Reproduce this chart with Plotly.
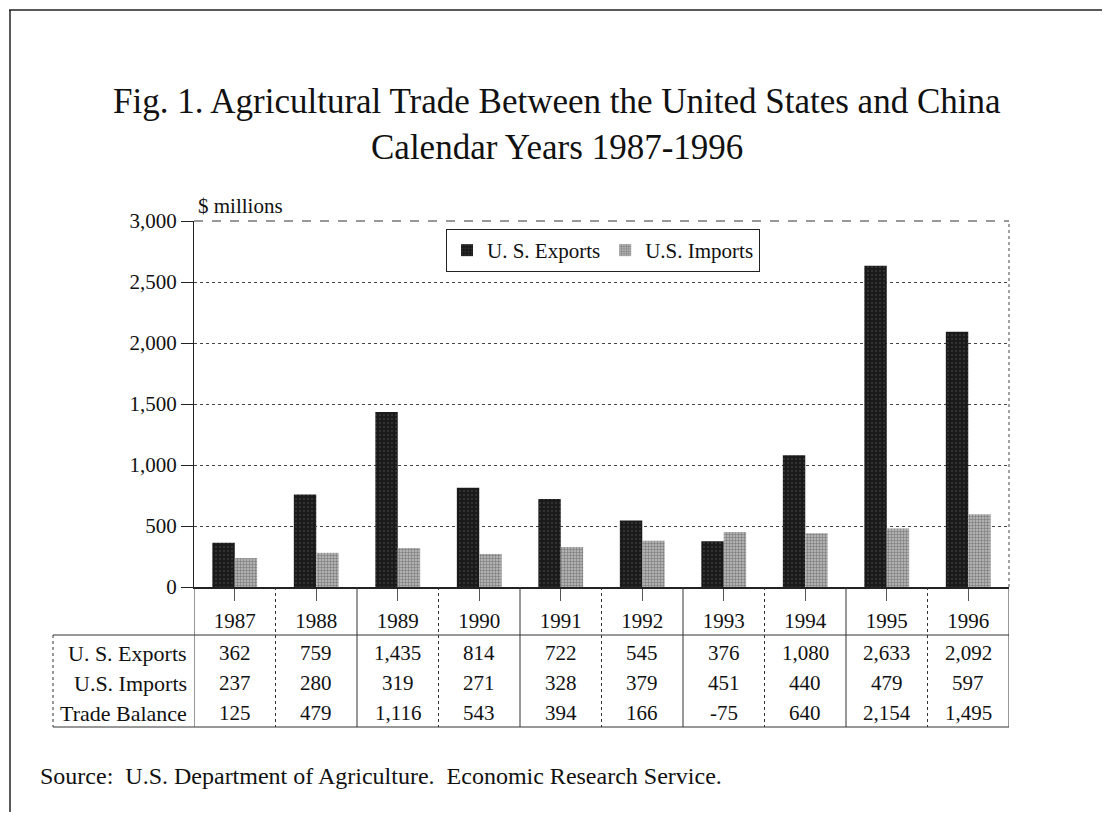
import plotly.graph_objects as go

years = ["1987", "1988", "1989", "1990", "1991", "1992", "1993", "1994", "1995", "1996"]
us_exports = [362, 759, 1435, 814, 722, 545, 376, 1080, 2633, 2092]
us_imports = [237, 280, 319, 271, 328, 379, 451, 440, 479, 597]
trade_balance = [125, 479, 1116, 543, 394, 166, -75, 640, 2154, 1495]
row_labels = ["U. S. Exports", "U.S. Imports", "Trade Balance"]
y_ticks = [0, 500, 1000, 1500, 2000, 2500, 3000]

SERIF = "Liberation Serif, Times New Roman, serif"
OFF = 8  # page body margin
W, H = 1110 - 2 * OFF, 831 - 2 * OFF
P_LEFT, P_RIGHT, P_TOP, P_BOT = 194, 1009, 221, 587  # plot area in page px
ML = P_LEFT - OFF
MR = W - (P_RIGHT - OFF)
MT = P_TOP - OFF
MB = H - (P_BOT - OFF)
PW, PH = P_RIGHT - P_LEFT, P_BOT - P_TOP


def py(px):  # page pixel y -> paper y
    return (P_BOT - px) / PH


def pxx(px):  # page pixel x -> paper x
    return (px - P_LEFT) / PW


fig = go.Figure()
fig.add_trace(go.Bar(
    x=list(range(len(years))), y=us_exports, name="U. S. Exports",
    marker=dict(color="#1a1a1a", line=dict(width=0),
                pattern=dict(shape=".", fgcolor="#8a8a8a", size=4, solidity=0.12)),
))
fig.add_trace(go.Bar(
    x=list(range(len(years))), y=us_imports, name="U.S. Imports",
    marker=dict(color="#b0b0b0", line=dict(width=0),
                pattern=dict(shape="+", fgcolor="#333333", size=3, solidity=0.3)),
))

shapes = []
ann = []
line_col = "#333"
T_TOP, T_BOT = 635, 727
# table horizontal lines
for ypx in (T_TOP, T_BOT):
    shapes.append(dict(type="line", xref="paper", yref="paper", x0=pxx(53), x1=1.0,
                       y0=py(ypx), y1=py(ypx), line=dict(color=line_col, width=1)))
# table vertical dividers between categories
n = len(years)
for i in range(n + 1):
    shapes.append(dict(type="line", xref="x", yref="paper", x0=i - 0.5, x1=i - 0.5,
                       y0=0, y1=py(T_BOT),
                       line=dict(color=line_col, width=1, dash="solid" if i % 2 == 0 else "dot")))
shapes.append(dict(type="line", xref="paper", yref="paper", x0=pxx(53), x1=pxx(53),
                   y0=py(T_TOP), y1=py(T_BOT), line=dict(color=line_col, width=1, dash="dot")))
# outer frame (top and left)
shapes.append(dict(type="line", xref="paper", yref="paper", x0=pxx(9), x1=pxx(1110),
                   y0=py(10), y1=py(10), line=dict(color="#222", width=1.5)))
shapes.append(dict(type="line", xref="paper", yref="paper", x0=pxx(10), x1=pxx(10),
                   y0=py(10), y1=py(812), line=dict(color="#222", width=1.5)))
# plot frame: right (dotted) and top (dashed)
shapes.append(dict(type="line", xref="paper", yref="paper", x0=1, x1=1, y0=0, y1=1,
                   line=dict(color="#444", width=1, dash="dot")))
shapes.append(dict(type="line", xref="paper", yref="paper", x0=0, x1=1, y0=1, y1=1,
                   line=dict(color="#333", width=1.2, dash="dash")))

rows = [us_exports, us_imports, trade_balance]
row_y = [653, 683, 713]
for label, vals, ypx in zip(row_labels, rows, row_y):
    ann.append(dict(text=label, xref="paper", yref="paper", x=pxx(189), y=py(ypx),
                    xanchor="right", yanchor="middle", showarrow=False,
                    font=dict(family=SERIF, size=22, color="#111")))
    for i, v in enumerate(vals):
        ann.append(dict(text=f"{v:,}", xref="x", yref="paper", x=i, y=py(ypx),
                        xanchor="center", yanchor="middle", showarrow=False,
                        font=dict(family=SERIF, size=21, color="#111")))

ann.append(dict(text="$ millions", xref="paper", yref="paper", x=pxx(196), y=py(206),
                xanchor="left", yanchor="middle", showarrow=False,
                font=dict(family=SERIF, size=21, color="#111")))
ann.append(dict(text="Source:  U.S. Department of Agriculture.  Economic Research Service.",
                xref="paper", yref="paper", x=pxx(38), y=py(776),
                xanchor="left", yanchor="middle", showarrow=False,
                font=dict(family=SERIF, size=24, color="#111")))
ann.append(dict(text="Fig. 1. Agricultural Trade Between the United States and China",
                xref="paper", yref="paper", x=pxx(557), y=py(102),
                xanchor="center", yanchor="middle", showarrow=False,
                font=dict(family=SERIF, size=35, color="#111")))
ann.append(dict(text="Calendar Years 1987-1996",
                xref="paper", yref="paper", x=pxx(557), y=py(147),
                xanchor="center", yanchor="middle", showarrow=False,
                font=dict(family=SERIF, size=35, color="#111")))

fig.update_layout(
    width=W, height=H,
    margin=dict(l=ML, r=MR, t=MT, b=MB, autoexpand=False),
    paper_bgcolor="white", plot_bgcolor="white",
    barmode="group", bargap=0.45, bargroupgap=0,
    showlegend=True,
    legend=dict(orientation="h", x=pxx(603), xanchor="center", y=py(229), yanchor="top",
                bordercolor="#222", borderwidth=1, bgcolor="white",
                font=dict(family=SERIF, size=21, color="#111"),
                itemwidth=30, tracegroupgap=0),
    shapes=shapes, annotations=ann,
    font=dict(family=SERIF, color="#111"),
)
fig.update_xaxes(
    range=[-0.5, n - 0.5], tickmode="array", tickvals=list(range(n)), ticktext=years,
    showline=True, linecolor="#222", linewidth=1.5,
    ticks="outside", ticklen=12, tickcolor="#555",
    tickfont=dict(family=SERIF, size=21, color="#111"),
    ticklabelstandoff=2, showgrid=False, zeroline=False,
)
fig.update_yaxes(
    range=[0, 3000], tickvals=y_ticks, tickformat=",",
    showline=True, linecolor="#222", linewidth=1.2,
    ticks="outside", ticklen=12, tickcolor="#222",
    tickfont=dict(family=SERIF, size=21, color="#111"),
    showgrid=True, gridcolor="#444", griddash="dot", gridwidth=1,
    zeroline=False,
)

fig.write_html("out.html")
